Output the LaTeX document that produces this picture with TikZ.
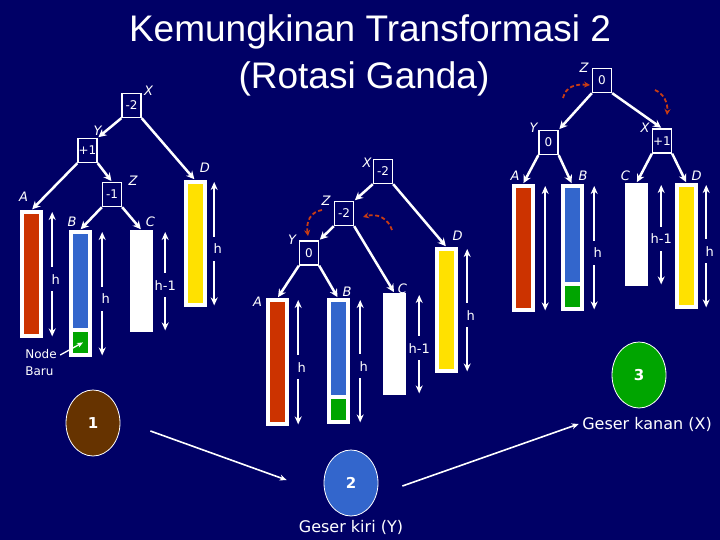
\documentclass[tikz,border=0pt]{standalone}
\usepackage{fontspec}
\setmainfont{DejaVu Sans}
\newfontfamily\titlefont{Liberation Sans}
\usetikzlibrary{calc,arrows.meta,shapes.geometric}
\definecolor{Navy}{RGB}{0,0,102}
\definecolor{LeafRed}{RGB}{204,51,0}
\definecolor{LeafBlue}{RGB}{51,102,204}
\definecolor{LeafGreen}{RGB}{0,165,0}
\definecolor{LeafYellow}{RGB}{255,225,0}
\definecolor{CaseBrown}{RGB}{102,51,0}
\definecolor{RotRed}{RGB}{200,60,20}
\tikzset{%
	% Style of the tree node
	Box/.style={rectangle,draw=white,line width=1.3pt,minimum width=19,minimum height=24,inner sep=0,text=white,font=\fontsize{12}{12}\selectfont},
	% Style of the node label
	NodeName/.style={text=white,inner sep=0,font=\itshape\fontsize{13}{13}\selectfont},
	% Style of the subtree bar
	Bar/.style={rectangle,fill=white,inner sep=0,minimum width=23,minimum height=#1,anchor=north},
	Core/.style={path picture={\fill[#1] ($(path picture bounding box.north west)+(4pt,-4pt)$) rectangle ($(path picture bounding box.south east)+(-4pt,4pt)$);}},
	NewCore/.style={path picture={%
		\fill[LeafBlue] ($(path picture bounding box.north west)+(4pt,-4pt)$) rectangle ($(path picture bounding box.south east)+(-4pt,29pt)$);
		\fill[LeafGreen] ($(path picture bounding box.south west)+(4pt,25pt)$) rectangle ($(path picture bounding box.south east)+(-4pt,4pt)$);}},
	% Style of the branch
	Branch/.style={white,line width=2.5pt,shorten >=1pt,-{Stealth[length=8pt,width=8pt]}},
	% Style of the height arrow
	Height/.style={white,line width=1.8pt,{Stealth[length=8pt,width=7pt]}-{Stealth[length=8pt,width=7pt]}},
	HLabel/.style={fill=Navy,text=white,inner xsep=1pt,inner ysep=7pt,pos=0.54,font=\fontsize{13}{13}\selectfont},
	% Style of the rotation hint
	Rotate/.style={draw=RotRed,line width=1.8pt,dash pattern=on 4pt off 2.5pt,-{Stealth[length=6pt,width=6pt]}},
	% Style of the case circle
	Case/.style={ellipse,draw=white,line width=0.8pt,minimum width=54,minimum height=66,inner sep=0,text=white,font=\bfseries\fontsize{15}{15}\selectfont},
	Caption/.style={text=white,font=\fontsize{16}{16}\selectfont},
	Link/.style={white,line width=1.6pt,-{Stealth[length=7pt,width=6pt]}},
	Title/.style={text=white,inner sep=0,font=\titlefont\fontsize{37}{37}\selectfont},
}
% height arrow beside a bar: node, distance from its east side, label, label shift
\newcommand{\HeightArrow}[4][3.5pt]{%
	\draw[Height] ($(#2.north east)+(#3,2)$) -- node[HLabel,xshift=#1]{#4} ($(#2.south east)+(#3,-2)$);}

\begin{document}
\begin{tikzpicture}[x=1pt,y=-1pt]
\fill[Navy] (0,0) rectangle (720,540);
\useasboundingbox (0,0) rectangle (720,540);

\node[Title,anchor=base] (Title1) at (370,42) {Kemungkinan Transformasi 2};
\node[Title,anchor=base] (Title2) at (364,89) {(Rotasi Ganda)};

%~~~~~~~~~~~~~~~~~~~~~~~~~~~~~~~~~~~~~~~~~~~~~~~~~~
% Tree 1 : after insert
%~~~~~~~~~~~~~~~~~~~~~~~~~~~~~~~~~~~~~~~~~~~~~~~~~~
\node[Box] (X1) at (131.5,105.5) {-2};
\node[NodeName] at ($ (X1) + (17, -15) $) {X};
\node[Box] (Y1) at (87.5,150.5) {+1};
\node[NodeName] at ($ (Y1) + (10, -20) $) {Y};
\node[Box] (Z1) at (112,194.5) {-1};
\node[NodeName] at ($ (Z1) + (21, -14) $) {Z};

\node[Bar=128,Core=LeafRed] (A1) at (31.5,210) {};
\node[NodeName] at ($ (A1.north) + (-8, -13) $) {A};
\node[Bar=127,NewCore] (B1) at (80,230) {};
\node[NodeName] at ($ (B1.north) + (-8, -8) $) {B};
\node[Bar=102] (C1) at (141.5,230) {};
\node[NodeName] at ($ (C1.north) + (9, -8) $) {C};
\node[Bar=127,Core=LeafYellow] (D1) at (195,180) {};
\node[NodeName] at ($ (D1.north) + (10, -12) $) {D};

\draw[Branch] (X1.south west) -- (Y1.north east);
\draw[Branch] (X1.south east) -- (D1.north);
\draw[Branch] (Y1.south west) -- (A1.north);
\draw[Branch] (Y1.south east) -- (Z1.north);
\draw[Branch] (Z1.south west) -- (B1.north);
\draw[Branch] (Z1.south east) -- (C1.north);

\HeightArrow{A1}{9}{h}
\HeightArrow{B1}{10.5}{h}
\HeightArrow[0pt]{C1}{12}{h-1}
\HeightArrow{D1}{7.5}{h}

\node[text=white,align=left,font=\fontsize{12}{17}\selectfont] (NodeBaru) at (41,363) {Node\\Baru};
\coordinate (NewLeaf) at ($ (B1.south) + (3, -15) $);
\draw[white,line width=1.3pt,-{Stealth[length=6pt,width=5pt]}] ($ (NodeBaru.east) + (0, -8) $) -- (NewLeaf);

%~~~~~~~~~~~~~~~~~~~~~~~~~~~~~~~~~~~~~~~~~~~~~~~~~~
% Tree 2 : rotate Y to the left
%~~~~~~~~~~~~~~~~~~~~~~~~~~~~~~~~~~~~~~~~~~~~~~~~~~
\node[Box] (X2) at (383,171.5) {-2};
\node[NodeName] at ($ (X2) + (-16, -9) $) {X};
\node[Box] (Z2) at (344,213.5) {-2};
\node[NodeName] at ($ (Z2) + (-18, -13) $) {Z};
\node[Box] (Y2) at (309,253) {0};
\node[NodeName] at ($ (Y2) + (-17, -13) $) {Y};

\node[Bar=128,Core=LeafRed] (A2) at (277.5,298) {};
\node[NodeName] at ($ (A2.north) + (-20, 4) $) {A};
\node[Bar=126,NewCore] (B2) at (338,298) {};
\node[NodeName] at ($ (B2.north) + (9, -6) $) {B};
\node[Bar=102] (C2) at (394.5,293) {};
\node[NodeName] at ($ (C2.north) + (8, -4) $) {C};
\node[Bar=126,Core=LeafYellow] (D2) at (446.5,247) {};
\node[NodeName] at ($ (D2.north) + (11, -11) $) {D};

\draw[Branch] (X2.south west) -- (Z2.north east);
\draw[Branch] (X2.south east) -- (D2.north);
\draw[Branch] (Z2.south west) -- (Y2.north east);
\draw[Branch] (Z2.south east) -- (C2.north);
\draw[Branch] (Y2.south west) -- (A2.north);
\draw[Branch] (Y2.south east) -- (B2.north);

\HeightArrow{A2}{9}{h}
\HeightArrow{B2}{10.5}{h}
\HeightArrow[0pt]{C2}{13}{h-1}
\HeightArrow{D2}{9}{h}

\coordinate (RotA) at (322,210);
\coordinate (RotB) at (308,236);
\draw[Rotate] (RotA) .. controls (310,212) and (306,222) .. (RotB);
\coordinate (RotC) at (392,230);
\coordinate (RotD) at (363,217);
\draw[Rotate] (RotC) .. controls (388,218) and (377,213) .. (RotD);

%~~~~~~~~~~~~~~~~~~~~~~~~~~~~~~~~~~~~~~~~~~~~~~~~~~
% Tree 3 : rotate Z to the right
%~~~~~~~~~~~~~~~~~~~~~~~~~~~~~~~~~~~~~~~~~~~~~~~~~~
\node[Box] (Z3) at (602,80.5) {0};
\node[NodeName] at ($ (Z3) + (-18, -13) $) {Z};
\node[Box] (Y3) at (548.5,142.5) {0};
\node[NodeName] at ($ (Y3) + (-15, -15) $) {Y};
\node[Box] (X3) at (662,141) {+1};
\node[NodeName] at ($ (X3) + (-17, -13) $) {X};

\node[Bar=128,Core=LeafRed] (A3) at (523,184) {};
\node[NodeName] at ($ (A3.north) + (-8, -8) $) {A};
\node[Bar=127,NewCore] (B3) at (572,184) {};
\node[NodeName] at ($ (B3.north) + (11, -8) $) {B};
\node[Bar=103] (C3) at (636.5,183) {};
\node[NodeName] at ($ (C3.north) + (-11, -7) $) {C};
\node[Bar=126,Core=LeafYellow] (D3) at (686.5,183) {};
\node[NodeName] at ($ (D3.north) + (10, -7) $) {D};

\draw[Branch] (Z3.south west) -- (Y3.north east);
\draw[Branch] (Z3.south east) -- (X3.north);
\draw[Branch] (Y3.south west) -- (A3.north);
\draw[Branch] (Y3.south east) -- (B3.north);
\draw[Branch] (X3.south west) -- (C3.north);
\draw[Branch] (X3.south east) -- (D3.north);

\draw[Height] ($ (A3.north east) + (10.5, 2) $) -- ($ (A3.south east) + (10.5, -2) $);
\HeightArrow{B3}{10.5}{h}
\HeightArrow[0pt]{C3}{13}{h-1}
\HeightArrow{D3}{8}{h}

\coordinate (RotE) at (563,98);
\coordinate (RotF) at (590,85);
\draw[Rotate] (RotE) .. controls (566,86) and (576,84) .. (RotF);
\coordinate (RotG) at (655,90);
\coordinate (RotH) at (667,115);
\draw[Rotate] (RotG) .. controls (664,94) and (668,103) .. (RotH);

%~~~~~~~~~~~~~~~~~~~~~~~~~~~~~~~~~~~~~~~~~~~~~~~~~~
% Steps
%~~~~~~~~~~~~~~~~~~~~~~~~~~~~~~~~~~~~~~~~~~~~~~~~~~
\node[Case,fill=CaseBrown] (Case1) at (93,423) {1};
\node[Case,fill=LeafBlue] (Case2) at (351,483) {2};
\node[Caption] (Kiri) at (351,527) {Geser kiri (Y)};
\node[Case,fill=LeafGreen] (Case3) at (639,375) {3};
\node[Caption] (Kanan) at (647,424) {Geser kanan (X)};

\coordinate (Go1) at ($ (Case1.east) + (30, 8) $);
\coordinate (Go2) at ($ (Case2.west) + (-37, -3) $);
\draw[Link] (Go1) -- (Go2);
\coordinate (Go3) at ($ (Case2.east) + (24, 3) $);
\draw[Link] (Go3) -- (Kanan.west);

\end{tikzpicture}
\end{document}
